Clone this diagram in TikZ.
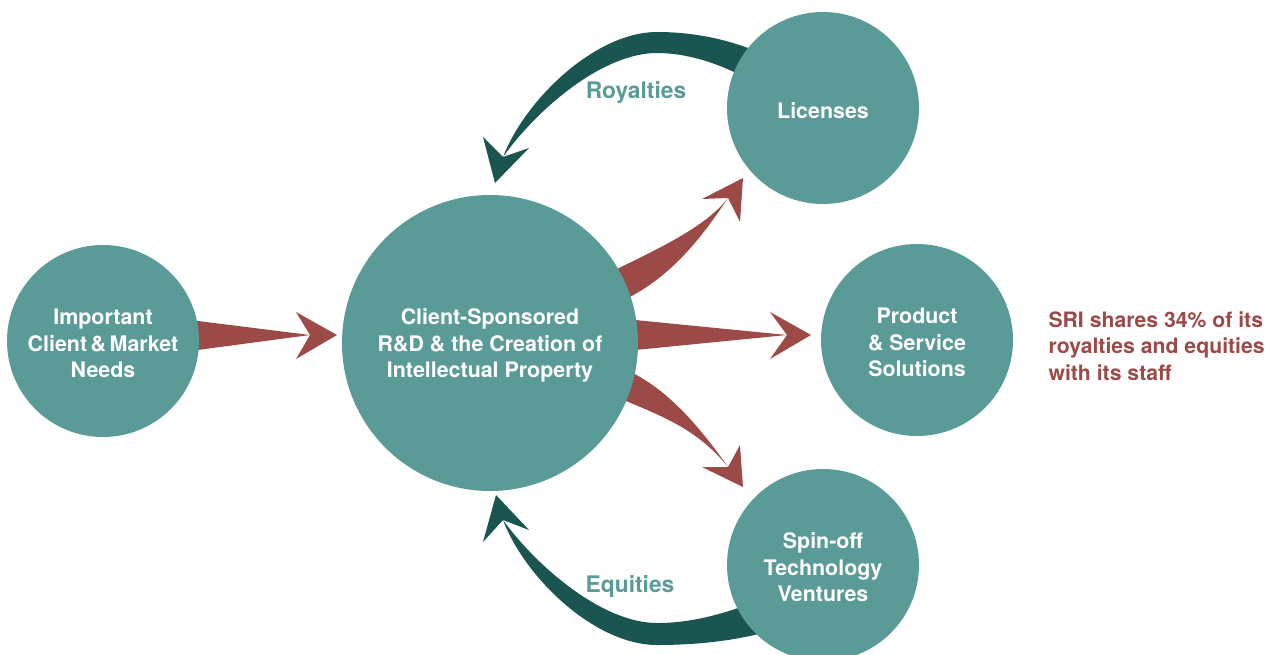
\documentclass[tikz,border=0pt]{standalone}
\usepackage{fontspec}
\setmainfont{TeX Gyre Heros}
\definecolor{teal}{HTML}{5A9A97}
\definecolor{deepgreen}{HTML}{1B5551}
\definecolor{brick}{HTML}{9B4A47}
\begin{document}
\begin{tikzpicture}[x=1pt,y=-1pt,
  bubble/.style={circle,fill=teal,inner sep=0pt},
  bubbletext/.style={text=white,align=center,inner sep=0pt,yshift=-2.5pt,
    font=\fontsize{21.4}{26.5}\selectfont\bfseries},
  flowlabel/.style={text=teal,font=\fontsize{22.8}{26}\selectfont\bfseries},
  redarrow/.style={fill=brick},
  backarrow/.style={fill=deepgreen}]
\useasboundingbox (0,0) rectangle (1285,654);

% ---- forward arrows (drawn first, so their tails sit under the circles)
% needs -> R&D
\coordinate (n1) at (310,335);
\fill[redarrow] (190,320) -- (n1) -- (190,351) -- cycle;
\fill[redarrow] (n1) -- (296,312) -- (337,335) -- (296,359) -- cycle;
% R&D -> products
\coordinate (n2) at (787,335);
\fill[redarrow] (625,319) -- (n2) -- (625,351) -- cycle;
\fill[redarrow] (n2) -- (770,312) -- (811,335) -- (770,359) -- cycle;
% R&D -> licenses
\coordinate (n3) at (728,198);
\fill[redarrow] (611,272) .. controls (655,250) and (705,228) .. (n3)
  .. controls (700,240) and (670,278) .. (622,301) -- cycle;
\fill[redarrow] (n3) -- (702,199) -- (743,178) -- (740,222) -- cycle;
% R&D -> spin-offs
\coordinate (n4) at (728,467);
\fill[redarrow] (624,369) .. controls (670,388) and (706,436) .. (n4)
  .. controls (698,430) and (665,417) .. (616,397) -- cycle;
\fill[redarrow] (n4) -- (702,467) -- (743,487) -- (740,445) -- cycle;

% ---- return flows
% royalties: licenses -> R&D
\coordinate (n5) at (503,157);
\fill[backarrow] (758,52) .. controls (725,38) and (690,32) .. (657,32)
  .. controls (595,32) and (525,100) .. (n5)
  .. controls (538,108) and (603,53) .. (657,53)
  .. controls (685,53) and (715,62) .. (742,76) -- cycle;
\fill[backarrow] (n5) -- (483,137) -- (495,183) -- (529,148) -- cycle;
% equities: spin-offs -> R&D
\coordinate (n6) at (503,520);
\fill[backarrow] (766,632) .. controls (730,642) and (690,645) .. (657,645)
  .. controls (595,645) and (525,578) .. (n6)
  .. controls (538,568) and (603,623) .. (657,623)
  .. controls (690,623) and (720,615) .. (752,603) -- cycle;
\fill[backarrow] (n6) -- (483,542) -- (496,495) -- (529,530) -- cycle;

% ---- circles
\node[bubble,minimum size=192pt] (needs) at (103,341) {};
\node[bubble,minimum size=296pt] (rnd) at (490,343) {};
\node[bubble,minimum size=192pt] (lic) at (823,108) {};
\node[bubble,minimum size=192pt] (prod) at (917,340) {};
\node[bubble,minimum size=192pt] (spin) at (823,565) {};

% ---- circle captions
\node[bubbletext] (needs-t) at (needs) {Important\\Client\,\&\,Market\\Needs};
\node[bubbletext] (rnd-t) at (rnd)
  {Client-Sponsored\\R\&D \& the Creation of\\Intellectual Property};
\node[bubbletext] (lic-t) at (lic) {Licenses};
\node[bubbletext] (prod-t) at (prod) {Product\\\& Service\\Solutions};
\node[bubbletext] (spin-t) at (spin) {Spin-off\\Technology\\Ventures};

% ---- labels
\node[flowlabel] (roy) at (636,92) {Royalties};
\node[flowlabel] (eq) at (630,586) {Equities};
\node[anchor=west,align=left,text=brick,
  font=\fontsize{21.2}{26.5}\selectfont\bfseries] (note) at (1045,346)
  {SRI shares 34\% of its\\royalties and equities\\with its staff};
\end{tikzpicture}
\end{document}
